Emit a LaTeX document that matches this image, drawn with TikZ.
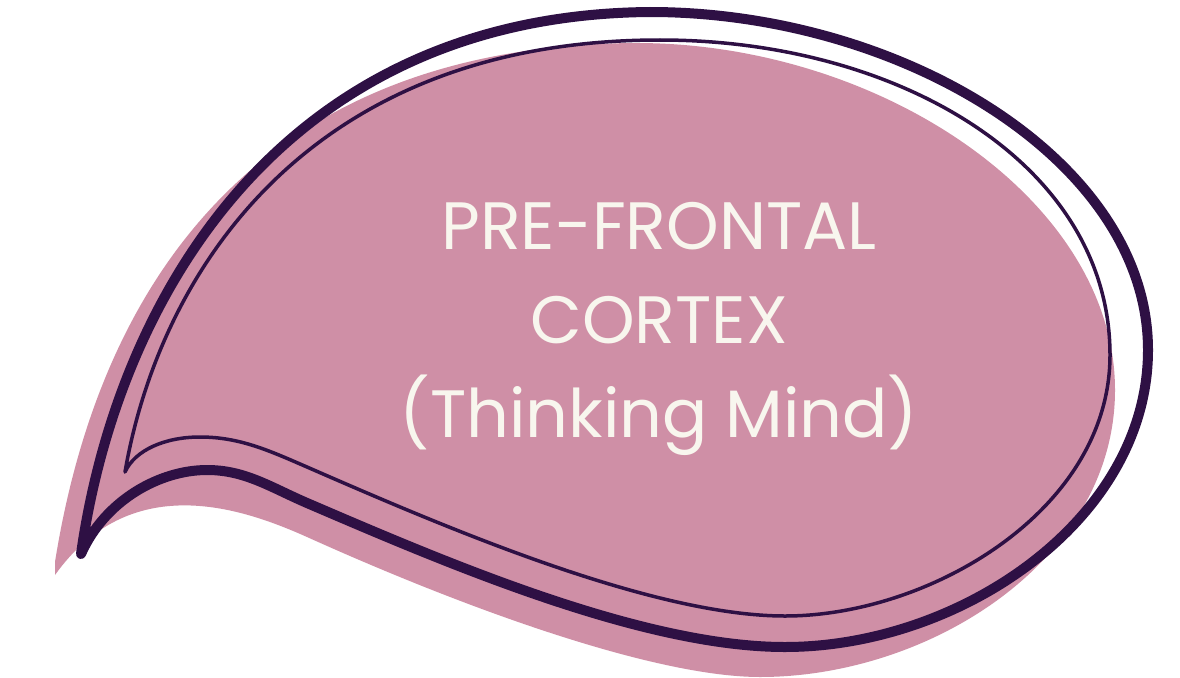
\documentclass[tikz,border=0pt]{standalone}
\usepackage{fontspec}
\setmainfont{Poppins}
\definecolor{bubblepink}{RGB}{207,143,166}
\definecolor{inkpurple}{RGB}{46,16,68}
\definecolor{cream}{RGB}{248,246,238}
\tikzset{
  outerline/.style={draw=inkpurple, line width=10pt, line cap=round, line join=round},
  innerline/.style={draw=inkpurple, line width=3.5pt, line cap=round, line join=round},
  label/.style={text=cream, font=\fontsize{67}{94}\selectfont, anchor=base, inner sep=0pt}
}
\begin{document}
\begin{tikzpicture}[x=1pt,y=-1pt]
\useasboundingbox (0,0) rectangle (1180,677);
\fill[white] (0,0) rectangle (1180,677);

% soft pink body of the bubble
\fill[bubblepink]
  (55,575) -- (55,562)
  .. controls (100,280) and (260,45) .. (636,43)
  .. controls (880,43) and (1115,200) .. (1115,390)
  .. controls (1115,560) and (930,677) .. (760,677)
  .. controls (660,677) and (480,615) .. (307,537)
  .. controls (240,507) and (130,470) .. (55,575) -- cycle;

% heavy outer outline
\draw[outerline]
  (81,554)
  .. controls (117,300) and (280,15) .. (650,12)
  .. controls (900,12) and (1148,160) .. (1148,350)
  .. controls (1148,520) and (960,647) .. (785,647)
  .. controls (640,647) and (440,560) .. (307,503)
  .. controls (270,487) and (245,470) .. (207,470)
  .. controls (160,470) and (105,500) .. (81,554);

% fine inner outline
\draw[innerline]
  (125,472)
  .. controls (160,270) and (310,40) .. (660,40)
  .. controls (900,40) and (1110,165) .. (1110,355)
  .. controls (1110,510) and (930,616) .. (785,616)
  .. controls (650,616) and (440,525) .. (307,467)
  .. controls (270,451) and (240,437) .. (200,437)
  .. controls (165,437) and (135,450) .. (125,472);

% caption
\node[label] (l1) at (659,249) {PRE-FRONTAL};
\node[label] (l2) at (659,343) {CORTEX};
\node[label] (l3) at (659,437) {(Thinking Mind)};
\end{tikzpicture}
\end{document}
